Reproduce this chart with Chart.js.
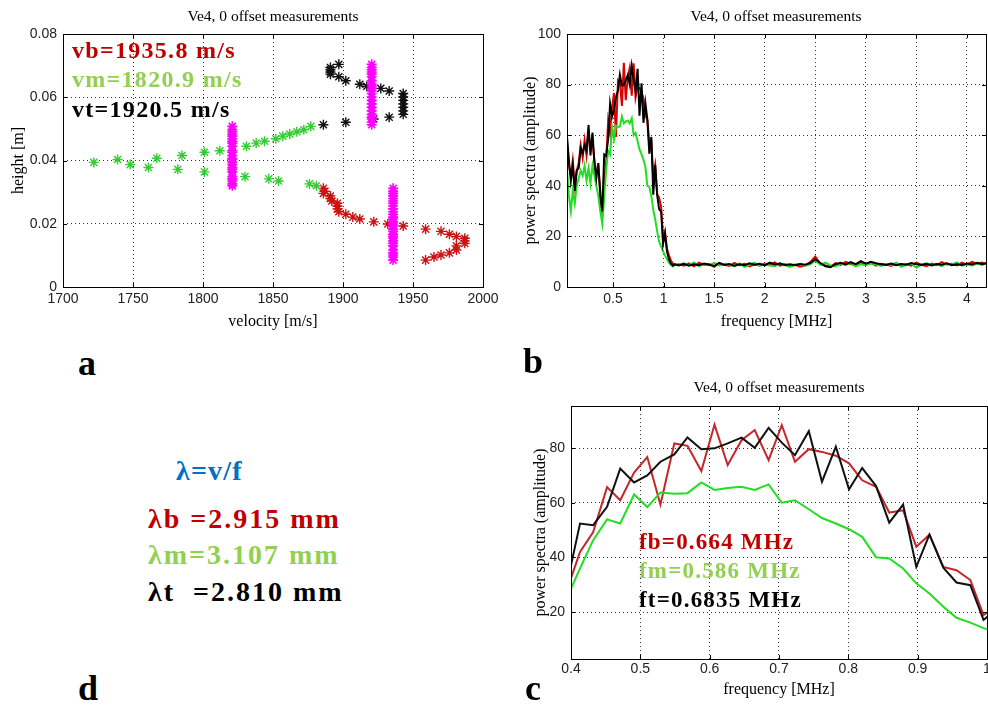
<!DOCTYPE html>
<html>
<head>
<meta charset="utf-8">
<script src="https://cdn.jsdelivr.net/npm/chart.js@4.4.1/dist/chart.umd.min.js"></script>
<style>
  html, body { margin: 0; padding: 0; background: #fff; overflow: hidden; }
  #page { position: relative; width: 988px; height: 709px; overflow: hidden; }
  canvas { position: absolute; }
  .t { position: absolute; white-space: pre; font-family: 'Liberation Serif', 'Times New Roman', serif; transform: translateY(-50%); }
  .title { font-size: 15.5px; color: #000; transform: translate(-50%, -50%); }
  .big { font-size: 36px; font-weight: bold; transform: translate(-50%, -50%); }
  .lab { font-weight: bold; }
</style>
</head>
<body>
<div id="page">
  <canvas id="chartA" width="510" height="340" style="left:0;top:0"></canvas>
  <canvas id="chartB" width="500" height="340" style="left:500px;top:0"></canvas>
  <canvas id="chartC" width="500" height="349" style="left:500px;top:360px"></canvas>

  <div class="t title" style="left:273px;top:16px">Ve4, 0 offset measurements</div>
  <div class="t title" style="left:776px;top:16px">Ve4, 0 offset measurements</div>
  <div class="t title" style="left:779px;top:387px">Ve4, 0 offset measurements</div>

  <div class="t lab" style="left:72px;top:50px;font-size:24px;letter-spacing:1.3px;color:#c00000">vb=1935.8 m/s</div>
  <div class="t lab" style="left:72px;top:79px;font-size:24px;letter-spacing:1.3px;color:#92d050">vm=1820.9 m/s</div>
  <div class="t lab" style="left:72px;top:109px;font-size:24px;letter-spacing:1.3px;color:#000">vt=1920.5 m/s</div>

  <div class="t lab" style="left:176px;top:471px;font-size:28px;letter-spacing:1.2px;color:#0070c0">λ=v/f</div>
  <div class="t lab" style="left:148px;top:519px;font-size:28px;letter-spacing:2px;color:#c00000">λb =2.915 mm</div>
  <div class="t lab" style="left:148px;top:555px;font-size:28px;letter-spacing:2px;color:#92d050">λm=3.107 mm</div>
  <div class="t lab" style="left:148px;top:592px;font-size:28px;letter-spacing:2px;color:#000">λt  =2.810 mm</div>

  <div class="t lab" style="left:639px;top:542px;font-size:23px;letter-spacing:1.2px;color:#c00000">fb=0.664 MHz</div>
  <div class="t lab" style="left:639px;top:571px;font-size:23px;letter-spacing:1.2px;color:#92d050">fm=0.586 MHz</div>
  <div class="t lab" style="left:639px;top:600px;font-size:23px;letter-spacing:1.2px;color:#000">ft=0.6835 MHz</div>

  <div class="t big" style="left:87px;top:363px">a</div>
  <div class="t big" style="left:533px;top:361px">b</div>
  <div class="t big" style="left:533px;top:688px">c</div>
  <div class="t big" style="left:88px;top:688px">d</div>
</div>

<script>
// ---- panel a: velocity vs height ----
const aXTicks = [1700, 1750, 1800, 1850, 1900, 1950, 2000];
const aYTicks = [0, 0.02, 0.04, 0.06, 0.08];

const mVel = [1722, 1739, 1748, 1761, 1767, 1782, 1785, 1801, 1801, 1812, 1830, 1831, 1838, 1844, 1847, 1852, 1854, 1857, 1862, 1867, 1872, 1877, 1876, 1881];
const mHgt = [0.0394, 0.0403, 0.0387, 0.0378, 0.0407, 0.0372, 0.0416, 0.0364, 0.0426, 0.0431, 0.0349, 0.0445, 0.0455, 0.0461, 0.0342, 0.0469, 0.0335, 0.0477, 0.0484, 0.0491, 0.0497, 0.0508, 0.0326, 0.0320];

const tVel = [1886, 1902, 1891, 1891, 1891, 1891, 1897, 1897, 1902, 1912, 1917, 1922, 1927, 1933, 1933, 1943, 1943, 1943, 1943, 1943, 1943, 1943];
const tHgt = [0.0513, 0.0521, 0.0694, 0.0687, 0.0680, 0.0673, 0.0704, 0.0665, 0.0652, 0.0641, 0.0635, 0.0531, 0.0628, 0.0620, 0.0537, 0.0612, 0.0601, 0.0590, 0.0579, 0.0568, 0.0557, 0.0546];

const bVel = [1886, 1887, 1886, 1891, 1891, 1892, 1896, 1896, 1896, 1897, 1902, 1907, 1912, 1922, 1932, 1943, 1959, 1970, 1976, 1981, 1987, 1987, 1987, 1981, 1981, 1976, 1970, 1965, 1959];
const bHgt = [0.0312, 0.0303, 0.0296, 0.0288, 0.0280, 0.0272, 0.0265, 0.0256, 0.0247, 0.0238, 0.0230, 0.0221, 0.0215, 0.0206, 0.0199, 0.0193, 0.0183, 0.0176, 0.0167, 0.0160, 0.0154, 0.0146, 0.0138, 0.0130, 0.0117, 0.0108, 0.0101, 0.0095, 0.0085];

// mean velocities (magenta columns)
const vb = 1935.8, vm = 1820.9, vt = 1920.5;

// ---- panel b / c: power spectra ----
const bXTicks = [0.5, 1, 1.5, 2, 2.5, 3, 3.5, 4];
const bYTicks = [0, 20, 40, 60, 80, 100];
const cXTicks = [0.4, 0.5, 0.6, 0.7, 0.8, 0.9, 1];
const cYTicks = [20, 40, 60, 80];

const lowFreq = [0.044, 0.064, 0.083, 0.102, 0.122, 0.141, 0.161, 0.180, 0.200, 0.219, 0.238, 0.258, 0.277, 0.297, 0.316, 0.335, 0.355, 0.374];
const lowRed = [58, 48, 44, 50, 40, 46, 49, 56, 51, 58, 52, 61, 55, 58, 50, 45, 47, 38];
const lowGreen = [47, 36, 30, 38, 33, 40, 43, 46, 44, 48, 42, 47, 41, 48, 44, 40, 36, 30];
const lowBlack = [60, 50, 42, 48, 38, 46, 47, 55, 53, 56, 54, 64, 52, 61, 49, 43, 49, 36];

const cFreq = [0.394, 0.413, 0.432, 0.452, 0.471, 0.491, 0.510, 0.529, 0.549, 0.568, 0.588, 0.607, 0.626, 0.646, 0.665, 0.685, 0.704, 0.723, 0.743, 0.762, 0.782, 0.801, 0.820, 0.840, 0.859, 0.879, 0.898, 0.917, 0.937, 0.956, 0.976, 0.995, 1.014];
const cRed = [28, 42.0, 49.3, 65.7, 60.9, 71.0, 76.7, 59.3, 81.7, 80.8, 71.6, 88.6, 73.8, 82.9, 86.6, 75.6, 88.4, 75.0, 79.6, 78.6, 77.2, 74.4, 68.2, 65.8, 56.4, 57.2, 43.9, 48.3, 36.5, 35.3, 31.7, 18.9, 22];
const cGreen = [25, 36, 46.3, 53.9, 52.4, 63.0, 58.4, 63.7, 63.3, 63.5, 67.4, 64.7, 65.4, 65.8, 64.7, 66.7, 60.0, 60.9, 57.6, 54.4, 52.4, 50.3, 47.5, 40.0, 39.6, 35.9, 30.5, 26.8, 21.9, 17.9, 16.1, 14.1, 12.5];
const cBlack = [30, 52.4, 51.8, 58.5, 72.5, 67.4, 70.0, 75.0, 77.7, 83.9, 79.6, 79.9, 81.7, 83.8, 80.1, 87.4, 82.0, 77.4, 86.2, 67.7, 80.5, 64.9, 72.7, 66.1, 52.7, 59.3, 36.5, 48.3, 36.2, 30.8, 29.8, 17.1, 21];

const hiFreq = [1.034, 1.053, 1.072, 1.092, 1.111,
  1.15, 1.2, 1.25, 1.3, 1.35, 1.4, 1.45, 1.5, 1.55, 1.6, 1.65, 1.7, 1.75, 1.8, 1.85, 1.9, 1.95, 2.0, 2.05, 2.1,
  2.15, 2.2, 2.25, 2.3, 2.35, 2.4, 2.45, 2.5, 2.55, 2.6, 2.65, 2.7, 2.75, 2.8, 2.85, 2.9, 2.95, 3.0, 3.05, 3.1,
  3.15, 3.2, 3.25, 3.3, 3.35, 3.4, 3.45, 3.5, 3.55, 3.6, 3.65, 3.7, 3.75, 3.8, 3.85, 3.9, 3.95, 4.0, 4.05, 4.1,
  4.15, 4.19];
const hiRed = [15, 12.5, 10.5, 9.3, 8.6,
  9.0, 8.4, 9.3, 8.2, 9.6, 8.7, 9.1, 8.0, 9.4, 8.9, 8.3, 9.5, 8.6, 9.2, 8.1, 9.0, 8.5, 9.3, 8.8, 9.7,
  8.4, 9.0, 8.2, 8.9, 8.0, 8.6, 9.8, 12.0, 9.2, 8.5, 8.0, 9.4, 8.7, 9.9, 9.1, 8.6, 9.7, 8.8, 9.5, 8.4,
  9.2, 8.9, 8.3, 9.4, 8.7, 9.0, 8.4, 9.6, 8.8, 8.2, 9.3, 8.6, 9.8, 8.9, 9.2, 8.5, 9.6, 8.8, 9.9, 9.1,
  9.7, 9.0];
const hiGreen = [11, 9.6, 8.8, 8.1, 8.7,
  8.8, 9.4, 8.5, 9.7, 8.3, 9.1, 8.6, 9.5, 8.4, 9.2, 8.7, 8.1, 9.3, 8.0, 8.8, 9.6, 8.3, 9.0, 8.5, 8.2,
  9.4, 8.6, 7.9, 8.8, 9.2, 8.4, 9.0, 10.5, 8.8, 9.6, 8.5, 8.1, 9.3, 8.7, 9.5, 8.2, 9.0, 8.6, 9.4, 8.9,
  8.3, 9.1, 8.7, 9.6, 8.0, 8.8, 9.2, 7.6, 8.9, 9.4, 8.6, 9.0, 8.2, 9.3, 8.8, 9.7, 8.4, 9.0, 8.5, 9.3,
  8.7, 9.5];
const hiBlack = [14, 11, 9.2, 8.4, 9.0,
  8.5, 9.2, 8.4, 9.0, 8.6, 9.3, 8.8, 8.3, 9.5, 8.7, 9.1, 8.4, 9.0, 8.6, 9.4, 8.8, 9.2, 8.5, 9.6, 8.9,
  9.3, 8.7, 9.0, 8.6, 9.1, 8.8, 9.4, 11.0, 9.5, 8.2, 7.8, 9.0, 9.6, 8.9, 9.8, 9.0, 10.2, 9.2, 10.0, 9.4,
  9.0, 8.7, 9.3, 8.6, 9.1, 8.8, 9.5, 9.0, 8.7, 9.2, 8.5, 9.1, 8.8, 9.4, 8.6, 9.0, 8.7, 9.3, 8.9, 9.6,
  9.0, 9.4];

const RED = '#dd0000', GREEN = '#22dd22', BLACK = '#000000', MAGENTA = '#ff00ff';

function pts(xs, ys) {
  return xs.map((x, i) => ({ x: x, y: ys[i] }));
}

// solid box round the plot with small inward ticks, like the original figure
const framePlugin = {
  id: 'frame',
  afterDraw(chart) {
    const { ctx, chartArea: a, scales } = chart;
    ctx.save();
    ctx.strokeStyle = '#000';
    ctx.lineWidth = 1;
    ctx.strokeRect(a.left + 0.5, a.top + 0.5, a.right - a.left, a.bottom - a.top);
    ctx.beginPath();
    scales.x.ticks.forEach(t => {
      const p = Math.round(scales.x.getPixelForValue(t.value)) + 0.5;
      ctx.moveTo(p, a.bottom); ctx.lineTo(p, a.bottom - 4);
      ctx.moveTo(p, a.top); ctx.lineTo(p, a.top + 4);
    });
    scales.y.ticks.forEach(t => {
      const p = Math.round(scales.y.getPixelForValue(t.value)) + 0.5;
      ctx.moveTo(a.left, p); ctx.lineTo(a.left + 4, p);
      ctx.moveTo(a.right, p); ctx.lineTo(a.right - 4, p);
    });
    ctx.stroke();
    ctx.restore();
  }
};

function axis(min, max, tickValues, size, title, titlePad, tickPad) {
  return {
    type: 'linear',
    min: min,
    max: max,
    afterBuildTicks: s => { s.ticks = tickValues.map(v => ({ value: v })); },
    afterFit: s => { if (s.isHorizontal()) s.height = size; else s.width = size; },
    grid: { color: '#333', lineWidth: 1, drawTicks: false },
    border: { display: false, dash: [1, 3] },
    ticks: {
      padding: tickPad,
      autoSkip: false,
      maxRotation: 0,
      color: '#222',
      font: { family: 'Liberation Sans', size: 14 },
      callback: v => String(v)
    },
    title: {
      display: true,
      text: title,
      color: '#000',
      font: { family: 'Liberation Serif', size: 16 },
      padding: titlePad
    }
  };
}

function prepareConfig(type, datasets, scales, padding) {
  return {
    type: type,
    data: { datasets: datasets },
    options: {
      responsive: false,
      animation: false,
      devicePixelRatio: 1,
      layout: { padding: padding },
      plugins: { legend: { display: false }, tooltip: { enabled: false }, title: { display: false } },
      scales: scales
    },
    plugins: [framePlugin]
  };
}

function starSet(data, color, r, w) {
  return { data: data, pointStyle: 'star', pointRadius: r, borderColor: color, backgroundColor: color, pointBorderWidth: w, clip: 0 };
}

function lineSet(data, color, w) {
  return { data: data, borderColor: color, borderWidth: w, pointRadius: 0, tension: 0, fill: false, clip: 0 };
}

// panel a
new Chart('chartA', prepareConfig('scatter', [
  starSet(mHgt.map(h => ({ x: vm, y: h })), MAGENTA, 5, 1.6),
  starSet(tHgt.map(h => ({ x: vt, y: h })), MAGENTA, 5, 1.6),
  starSet(bHgt.map(h => ({ x: vb, y: h })), MAGENTA, 5, 1.6),
  starSet(pts(tVel, tHgt), '#111111', 5, 1.4),
  starSet(pts(mVel, mHgt), '#33cc33', 5, 1.4),
  starSet(pts(bVel, bHgt), '#cc1111', 5, 1.4)
], {
  x: axis(1700, 2000, aXTicks, 53, 'velocity [m/s]', { top: 0, bottom: 9 }, 4),
  y: axis(0, 0.08, aYTicks, 63, 'height [m]', { top: 9, bottom: 0 }, 6)
}, { top: 34, right: 27, left: 0, bottom: 0 }));

// panel b
const bFreq = lowFreq.concat(cFreq, hiFreq);
new Chart('chartB', prepareConfig('line', [
  lineSet(pts(bFreq, lowBlack.concat(cBlack, hiBlack)), BLACK, 2),
  lineSet(pts(bFreq, lowGreen.concat(cGreen, hiGreen)), GREEN, 2),
  lineSet(pts(bFreq, lowRed.concat(cRed, hiRed)), RED, 2)
], {
  x: axis(0.045, 4.188, bXTicks, 53, 'frequency [MHz]', { top: 0, bottom: 9 }, 4),
  y: axis(0, 100, bYTicks, 67, 'power spectra (amplitude)', { top: 21, bottom: 0 }, 6)
}, { top: 34, right: 14, left: 0, bottom: 0 }));

// panel c (zoom of b)
new Chart('chartC', prepareConfig('line', [
  lineSet(pts(cFreq, cBlack), '#111111', 2),
  lineSet(pts(cFreq, cGreen), GREEN, 2),
  lineSet(pts(cFreq, cRed), '#c4262b', 2)
], {
  x: axis(0.4, 1.0, cXTicks, 50, 'frequency [MHz]', { top: 0, bottom: 10 }, 2),
  y: axis(2.8, 95.4, cYTicks, 71, 'power spectra (amplitude)', { top: 31, bottom: 0 }, 6)
}, { top: 46, right: 13, left: 0, bottom: 0 }));
</script>
</body>
</html>
